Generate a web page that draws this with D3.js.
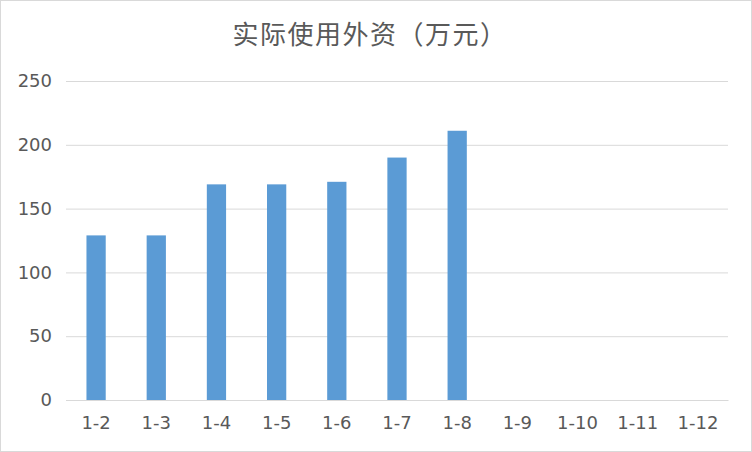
<!DOCTYPE html>
<html>
<head>
<meta charset="utf-8">
<script src="https://cdn.jsdelivr.net/npm/d3@7"></script>
<style>
  body { margin: 0; background: #fff; }
  text { font-family: "DejaVu Sans", sans-serif; fill: #595959; }
</style>
</head>
<body>
<div id="canvas"></div>
<script>
(function(d3){

  var categories = ['1-2', '1-3', '1-4', '1-5', '1-6', '1-7', '1-8', '1-9', '1-10', '1-11', '1-12'],
      values = [129, 129, 169, 169, 171, 190, 211, null, null, null, null],
      yTicks = [0, 50, 100, 150, 200, 250],
      title = '实际使用外资（万元）';

  var canvas_d = {width: 752, height: 452},
      margin = {top: 81, right: 24, bottom: 52, left: 66},
      canvas;

  canvas = d3.select('#canvas').append('svg')
      .attr('width', canvas_d.width)
      .attr('height', canvas_d.height);

  // frame
  canvas.append('rect')
      .attr('x', 0.5).attr('y', 0.5)
      .attr('width', canvas_d.width - 1).attr('height', canvas_d.height - 1)
      .attr('fill', '#fff').attr('stroke', '#d9d9d9');

  var x = d3.scaleBand()
      .domain(categories)
      .range([margin.left, canvas_d.width - margin.right])
      .paddingInner(0.68).paddingOuter(0.34);

  var y = d3.scaleLinear()
      .domain([0, 250])
      .range([canvas_d.height - margin.bottom, margin.top]);

  // gridlines + y labels
  var yAxis = canvas.append('g')
      .attr('transform', 'translate(' + margin.left + ',0)')
      .call(d3.axisLeft(y).tickValues(yTicks)
        .tickSize(-(canvas_d.width - margin.left - margin.right))
        .tickPadding(14));
  yAxis.select('.domain').remove();
  yAxis.selectAll('line').attr('stroke', '#d9d9d9');
  yAxis.selectAll('text').style('font-size', '18px').attr('fill', '#595959');

  // bars
  canvas.selectAll('rect.bar')
      .data(values.map(function(d, i) { return {c: categories[i], v: d}; })
        .filter(function(d) { return d.v != null; }))
    .enter().append('rect')
      .attr('class', 'bar')
      .attr('x', function(d) { return x(d.c); })
      .attr('width', x.bandwidth())
      .attr('y', function(d) { return y(d.v); })
      .attr('height', function(d) { return y(0) - y(d.v); })
      .attr('fill', '#5b9bd5');

  // x axis
  var xAxis = canvas.append('g')
      .attr('transform', 'translate(0,' + y(0) + ')')
      .call(d3.axisBottom(x).tickSize(0).tickPadding(16));
  xAxis.select('.domain').attr('stroke', '#d9d9d9');
  xAxis.selectAll('text').style('font-size', '18px').attr('fill', '#595959');

  // title
  canvas.append('text')
      .attr('x', 370)
      .attr('y', 44)
      .attr('text-anchor', 'middle')
      .style('font-family', '"Noto Sans CJK SC", sans-serif')
      .style('font-size', '26px')
      .style('letter-spacing', '1.5px')
      .text(title);

})(d3);
</script>
</body>
</html>
